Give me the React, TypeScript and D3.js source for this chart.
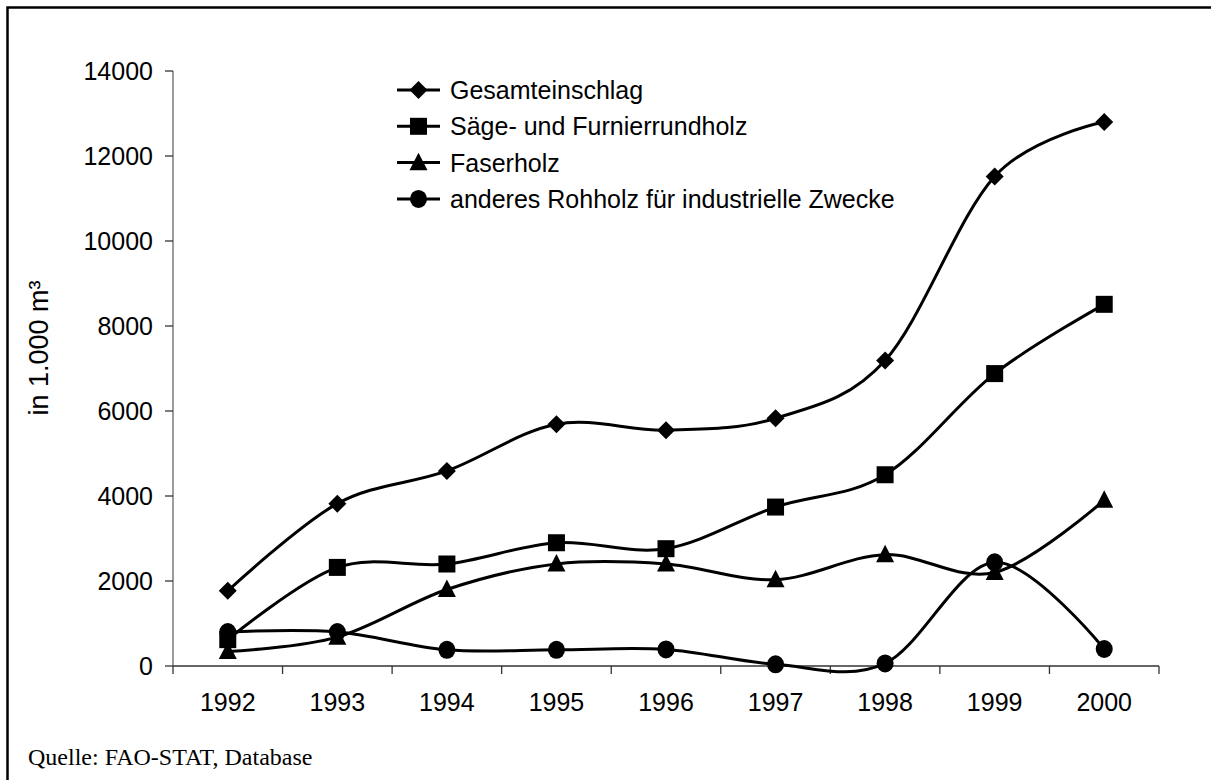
import { useEffect, useRef } from 'react';
import * as d3 from 'd3';

// Jahre (Kategorien der x-Achse)
const years = ['1992', '1993', '1994', '1995', '1996', '1997', '1998', '1999', '2000'];

// Werte in 1.000 m³
const gesamt = [1770, 3820, 4590, 5690, 5550, 5830, 7190, 11520, 12800];
const saege = [620, 2320, 2400, 2900, 2760, 3740, 4500, 6880, 8510];
const faser = [340, 680, 1800, 2400, 2400, 2030, 2620, 2200, 3900];
const anderes = [800, 800, 380, 380, 390, 40, 60, 2440, 400];

const seriesNames = [
  'Gesamteinschlag',
  'Säge- und Furnierrundholz',
  'Faserholz',
  'anderes Rohholz für industrielle Zwecke',
];
const markerTypes = ['diamond', 'square', 'triangle', 'circle'];
const yTicks = [0, 2000, 4000, 6000, 8000, 10000, 12000, 14000];

const W = 1211;
const H = 780;
const FONT = 'Arial, "Liberation Sans", Helvetica, sans-serif';

export default function App() {
  const svgRef = useRef<SVGSVGElement | null>(null);

  useEffect(() => {
    const svg = d3.select(svgRef.current);
    svg.selectAll('*').remove();

    const left = 173;
    const right = 1159;
    const top = 71;
    const bottom = 666;

    const x = d3.scaleBand().domain(years).range([left, right]);
    const y = d3.scaleLinear().domain([0, 14000]).range([bottom, top]);

    // Rahmen (nur links und oben sichtbar)
    svg.append('path')
      .attr('d', `M7.5,${H}V7.5H${W}`)
      .attr('fill', 'none')
      .attr('stroke', '#000')
      .attr('stroke-width', 2.5);

    // y-Achse
    const yAxis = svg.append('g');
    yAxis.append('line')
      .attr('x1', left).attr('x2', left)
      .attr('y1', top).attr('y2', bottom)
      .attr('stroke', '#666').attr('stroke-width', 1.3);
    yAxis.selectAll('line.tick')
      .data(yTicks)
      .join('line')
      .attr('class', 'tick')
      .attr('x1', left - 8).attr('x2', left)
      .attr('y1', d => y(d)).attr('y2', d => y(d))
      .attr('stroke', '#333').attr('stroke-width', 1.3);
    yAxis.selectAll('text')
      .data(yTicks)
      .join('text')
      .attr('x', left - 20)
      .attr('y', d => y(d))
      .attr('dy', '0.36em')
      .attr('text-anchor', 'end')
      .style('font-family', FONT)
      .style('font-size', '25px')
      .text(d => String(d));

    // y-Achsentitel
    svg.append('text')
      .attr('transform', `translate(48, 348) rotate(-90)`)
      .attr('text-anchor', 'middle')
      .style('font-family', FONT)
      .style('font-size', '27px')
      .text('in 1.000 m³');

    // x-Achse
    const xAxis = svg.append('g');
    xAxis.append('line')
      .attr('x1', left).attr('x2', right)
      .attr('y1', bottom).attr('y2', bottom)
      .attr('stroke', '#333').attr('stroke-width', 1.3);
    const boundaries = years.map(yr => x(yr) as number).concat([right]);
    xAxis.selectAll('line.tick')
      .data(boundaries)
      .join('line')
      .attr('class', 'tick')
      .attr('x1', d => d).attr('x2', d => d)
      .attr('y1', bottom).attr('y2', bottom + 8)
      .attr('stroke', '#333').attr('stroke-width', 1.3);
    xAxis.selectAll('text')
      .data(years)
      .join('text')
      .attr('x', d => (x(d) as number) + x.bandwidth() / 2)
      .attr('y', 711)
      .attr('text-anchor', 'middle')
      .style('font-family', FONT)
      .style('font-size', '25px')
      .text(d => d);

    // Linien
    const allSeries = [gesamt, saege, faser, anderes];
    const cx = (i: number) => (x(years[i]) as number) + x.bandwidth() / 2;
    const line = d3.line<number>()
      .x((_, i) => cx(i))
      .y(d => y(d))
      .curve(d3.curveCardinal.tension(0));

    const drawMarker = (g: any, type: string, px: number, py: number) => {
      if (type === 'diamond') {
        const r = 9;
        g.append('path')
          .attr('d', `M${px},${py - r}L${px + r},${py}L${px},${py + r}L${px - r},${py}Z`)
          .attr('fill', '#000');
      } else if (type === 'square') {
        const s = 17;
        g.append('rect')
          .attr('x', px - s / 2).attr('y', py - s / 2)
          .attr('width', s).attr('height', s)
          .attr('fill', '#000');
      } else if (type === 'triangle') {
        const s = 18;
        g.append('path')
          .attr('d', `M${px},${py - s * 0.55}L${px + s / 2},${py + s * 0.42}L${px - s / 2},${py + s * 0.42}Z`)
          .attr('fill', '#000');
      } else {
        g.append('ellipse')
          .attr('cx', px).attr('cy', py)
          .attr('rx', 8.5).attr('ry', 9)
          .attr('fill', '#000');
      }
    };

    allSeries.forEach((vals, si) => {
      const g = svg.append('g');
      g.append('path')
        .datum(vals)
        .attr('d', line)
        .attr('fill', 'none')
        .attr('stroke', '#000')
        .attr('stroke-width', 3);
      vals.forEach((v, i) => drawMarker(g, markerTypes[si], cx(i), y(v)));
    });

    // Legende
    const legX1 = 397;
    const legX2 = 440;
    const legY0 = 90;
    const legStep = 36.3;
    seriesNames.forEach((name, i) => {
      const g = svg.append('g');
      const ly = legY0 + i * legStep;
      g.append('line')
        .attr('x1', legX1).attr('x2', legX2)
        .attr('y1', ly).attr('y2', ly)
        .attr('stroke', '#000').attr('stroke-width', 3);
      drawMarker(g, markerTypes[i], (legX1 + legX2) / 2, ly);
      g.append('text')
        .attr('x', 450)
        .attr('y', ly)
        .attr('dy', '0.36em')
        .style('font-family', FONT)
        .style('font-size', '25px')
        .text(name);
    });

    // Quelle
    svg.append('text')
      .attr('x', 28)
      .attr('y', 765)
      .style('font-family', '"Times New Roman", "Liberation Serif", serif')
      .style('font-size', '24px')
      .text('Quelle: FAO-STAT, Database');
  }, []);

  return (
    <svg
      ref={svgRef}
      width={W}
      height={H}
      style={{ position: 'absolute', left: 0, top: 0, background: '#fff', display: 'block' }}
    />
  );
}
